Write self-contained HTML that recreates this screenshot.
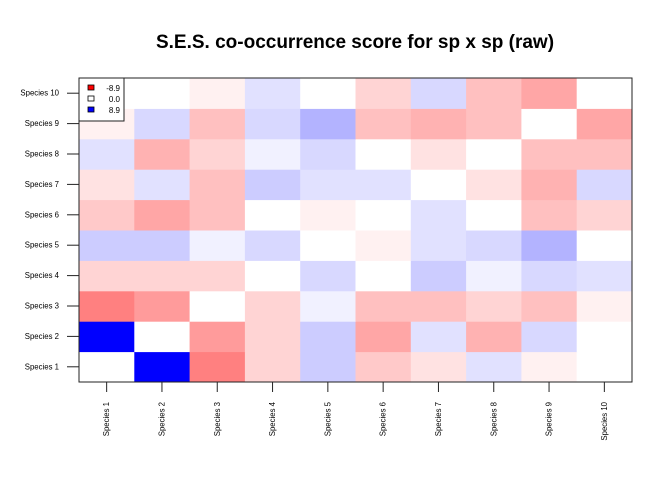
<!DOCTYPE html>
<html><head><meta charset="utf-8"><style>
body{margin:0;background:#fff;}
svg{display:block;font-family:"Liberation Sans",Arial,sans-serif;}
</style></head><body>
<svg id="chart" width="672" height="480">
<text x="355" y="48" text-anchor="middle" font-size="19" font-weight="bold">S.E.S. co-occurrence score for sp x sp (raw)</text>
<g id="cells"></g>
<g id="axes"></g>
<rect x="79" y="78" width="553" height="304" fill="none" stroke="#222" stroke-width="1"/>
<g>
<rect x="79" y="78" width="45" height="43" fill="#fff" stroke="#222"/>
<rect x="88" y="85" width="6" height="5" fill="#f00" stroke="#000" stroke-width="0.8"/>
<rect x="88" y="96" width="6" height="5" fill="#fff" stroke="#000" stroke-width="0.8"/>
<rect x="88" y="107" width="6" height="5" fill="#00f" stroke="#000" stroke-width="0.8"/>
<text x="120" y="91" text-anchor="end" font-size="8">-8.9</text>
<text x="120" y="102" text-anchor="end" font-size="8">0.0</text>
<text x="120" y="113" text-anchor="end" font-size="8">8.9</text>
</g>
</svg>
<script>
const species = ["Species 1","Species 2","Species 3","Species 4","Species 5","Species 6","Species 7","Species 8","Species 9","Species 10"];
const maxAbs = 8.9;
// rows: Species 1 .. Species 10, columns: Species 1 .. Species 10
const row1 = [0, 8.9, -4.45, -1.5, 1.78, -1.9, -1.0, 1.05, -0.5, 0];
const row2 = [8.9, 0, -3.5, -1.5, 1.78, -3.1, 1.05, -2.7, 1.36, 0];
const row3 = [-4.45, -3.5, 0, -1.5, 0.5, -2.2, -2.2, -1.5, -2.2, -0.5];
const row4 = [-1.5, -1.5, -1.5, 0, 1.36, 0, 1.78, 0.5, 1.36, 1.05];
const row5 = [1.78, 1.78, 0.5, 1.36, 0, -0.5, 1.05, 1.36, 2.65, 0];
const row6 = [-1.9, -3.1, -2.2, 0, -0.5, 0, 1.05, 0, -2.2, -1.5];
const row7 = [-1.0, 1.05, -2.2, 1.78, 1.05, 1.05, 0, -1.0, -2.7, 1.36];
const row8 = [1.05, -2.7, -1.5, 0.5, 1.36, 0, -1.0, 0, -2.2, -2.2];
const row9 = [-0.5, 1.36, -2.2, 1.36, 2.65, -2.2, -2.7, -2.2, 0, -3.1];
const row10 = [0, 0, -0.5, 1.05, 0, -1.5, 1.36, -2.2, -3.1, 0];
const rows = [row1,row2,row3,row4,row5,row6,row7,row8,row9,row10];

const NS="http://www.w3.org/2000/svg";
const L=79,T=78,R=632,B=382;
const n=species.length;
const cw=(R-L)/n, ch=(B-T)/n;
const xPos=i=>L+i*cw;
const yPos=j=>B-(j+1)*ch;
function color(v){
  const f=Math.min(1,Math.abs(v)/maxAbs);
  const c=Math.round(255*(1-f));
  return v<0?`rgb(255,${c},${c})`:`rgb(${c},${c},255)`;
}
const cells=document.getElementById('cells');
rows.forEach((row,j)=>{
  row.forEach((v,i)=>{
    const r=document.createElementNS(NS,'rect');
    r.setAttribute('x',xPos(i));r.setAttribute('y',yPos(j));
    r.setAttribute('width',cw+0.5);r.setAttribute('height',ch+0.5);
    r.setAttribute('fill',color(v));
    
    
    cells.appendChild(r);
  });
});
const axes=document.getElementById('axes');
species.forEach((s,j)=>{
  const y=yPos(j)+ch/2;
  const t=document.createElementNS(NS,'line');
  t.setAttribute('x1',67);t.setAttribute('x2',79);t.setAttribute('y1',y);t.setAttribute('y2',y);
  t.setAttribute('stroke','#222');
  
  
  axes.appendChild(t);
  const tx=document.createElementNS(NS,'text');
  tx.setAttribute('x',59);tx.setAttribute('y',y+2.5);tx.setAttribute('text-anchor','end');tx.setAttribute('font-size','7.8');
  tx.textContent=s;
  
  
  axes.appendChild(tx);
});
species.forEach((s,i)=>{
  const x=xPos(i)+cw/2;
  const t=document.createElementNS(NS,'line');
  t.setAttribute('x1',x);t.setAttribute('x2',x);t.setAttribute('y1',382);t.setAttribute('y2',392);
  t.setAttribute('stroke','#222');
  
  
  axes.appendChild(t);
  const tx=document.createElementNS(NS,'text');
  tx.setAttribute('transform',`translate(${x+2.5},402) rotate(-90)`);
  tx.setAttribute('text-anchor','end');tx.setAttribute('font-size','7.8');
  tx.textContent=s;
  
  
  axes.appendChild(tx);
});
</script>
</body></html>
